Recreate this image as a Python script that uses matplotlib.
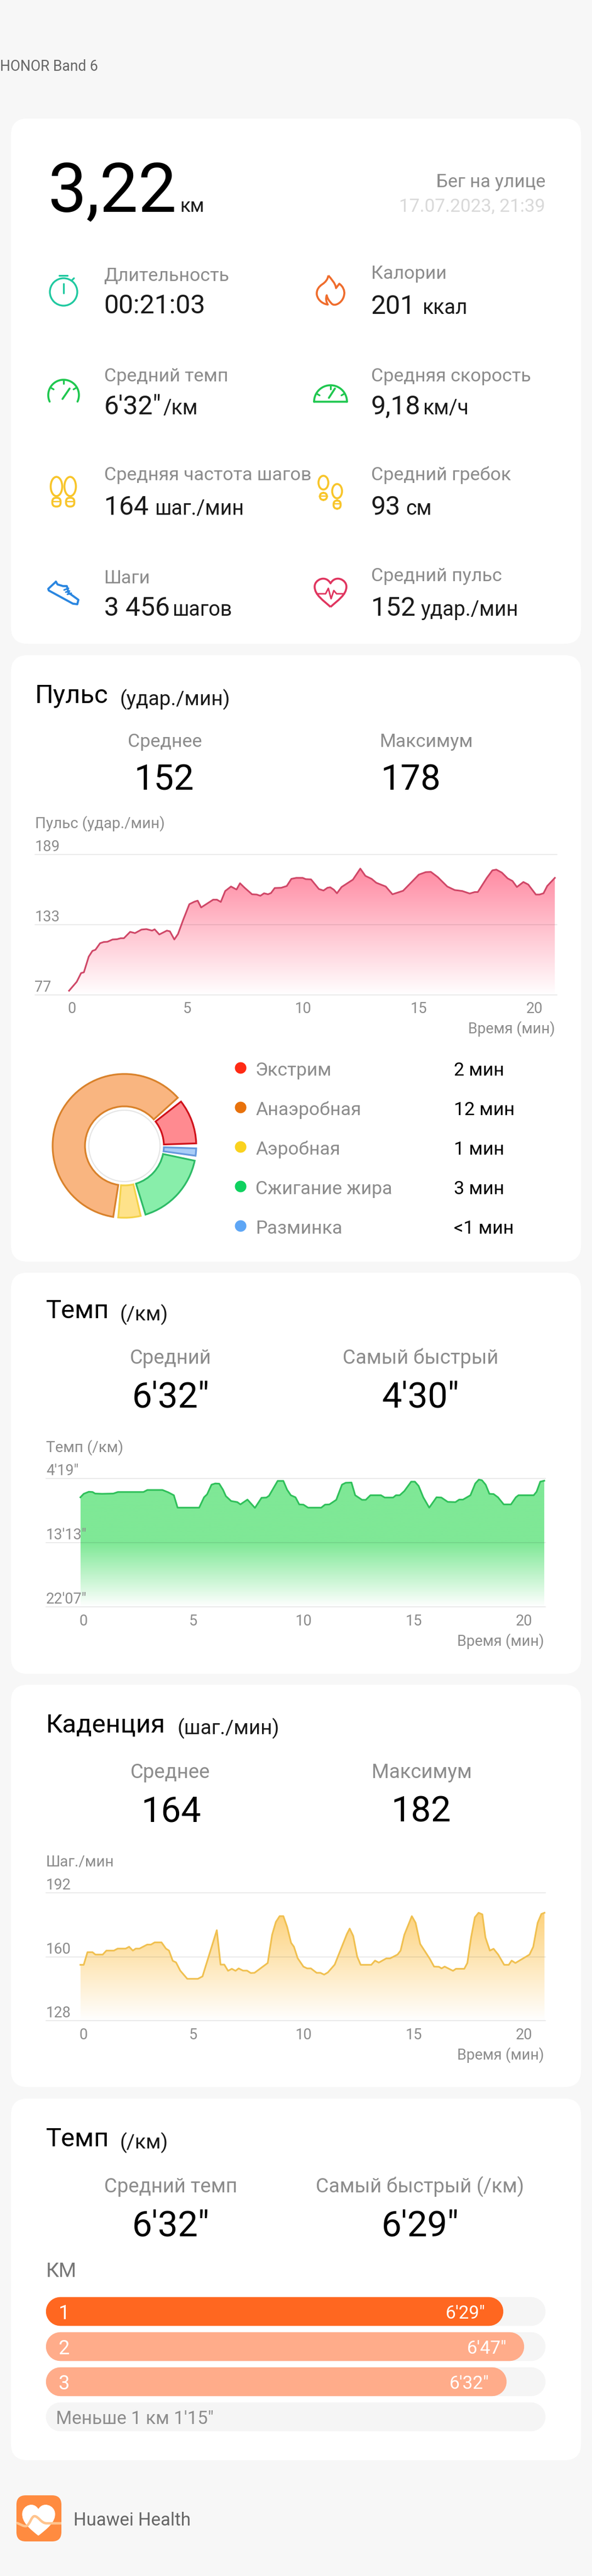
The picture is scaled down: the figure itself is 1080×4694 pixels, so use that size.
import numpy as np
import matplotlib
matplotlib.use("Agg")
import matplotlib.pyplot as plt
import matplotlib.patches as mpatches
from matplotlib.colors import LinearSegmentedColormap
from matplotlib.path import Path
from matplotlib.transforms import ScaledTranslation

plt.rcParams["font.family"] = ["Roboto", "DejaVu Sans"]

W, H = 1080, 4694

hr_minutes = [0.00, 0.33, 0.52, 0.64, 0.85, 1.01, 1.14, 1.34, 1.50, 1.66, 1.88, 2.07, 2.23, 2.37, 2.64, 2.85, 3.13, 3.34, 3.59, 3.70,
              3.90, 4.23, 4.36, 4.55, 4.71, 4.93, 5.20, 5.42, 5.56, 5.71, 6.23, 6.39, 6.56, 6.75, 7.00, 7.24, 7.39, 7.59, 7.91, 8.11,
              8.27, 8.43, 8.60, 8.73, 8.89, 9.17, 9.41, 9.61, 9.82, 10.10, 10.23, 10.46, 10.80, 11.00, 11.17, 11.29, 11.45, 11.58, 11.78, 12.27,
              12.59, 12.81, 13.08, 13.28, 13.69, 13.98, 14.44, 14.80, 15.12, 15.42, 15.64, 15.94, 16.35, 16.67, 17.00, 17.32, 17.54, 17.67, 18.06, 18.30,
              18.47, 18.71, 18.96, 19.17, 19.36, 19.64, 19.85, 20.18, 20.34, 20.51, 20.67, 21.00]
hr_bpm = [80.2, 87.3, 94.3, 94.9, 107.4, 112.0, 112.9, 118.1, 119.1, 119.3, 121.1, 121.3, 122.1, 122.1, 127.2, 126.2, 129.0, 129.4, 128.2, 129.2,
          125.1, 128.2, 127.6, 121.1, 125.5, 136.6, 149.3, 151.3, 152.1, 146.7, 152.9, 152.9, 151.1, 159.8, 163.4, 161.0, 166.0, 162.4, 157.2, 157.0,
          156.0, 158.0, 157.2, 158.2, 162.2, 162.4, 163.8, 169.5, 170.3, 170.3, 169.3, 169.1, 161.4, 160.2, 162.4, 162.8, 160.8, 158.0, 163.0, 168.9,
          177.7, 171.9, 169.5, 166.4, 163.4, 157.2, 160.0, 166.8, 172.9, 174.9, 175.1, 170.9, 163.4, 160.6, 159.8, 157.8, 159.0, 159.0, 170.3, 176.3,
          176.9, 174.5, 169.9, 167.8, 163.0, 167.0, 165.0, 157.0, 157.0, 158.0, 163.8, 170.3]

pace_minutes = [0, 0.15, 0.38, 0.55, 0.67, 0.98, 1.49, 1.70, 2.01, 2.86, 3.04, 3.72, 3.98, 4.24, 4.41, 5.39, 5.61, 5.75, 5.95, 6.12,
                6.30, 6.47, 6.60, 6.84, 7.12, 7.26, 7.58, 7.92, 8.22, 8.44, 8.56, 8.95, 9.21, 9.38, 9.55, 9.76, 9.93, 10.12, 10.33, 10.93,
                11.10, 11.30, 11.61, 11.87, 12.04, 12.30, 12.47, 12.78, 12.95, 13.16, 13.64, 13.81, 14.19, 14.32, 14.49, 14.70, 15.01, 15.18, 15.35, 15.56,
                15.83, 16.16, 16.38, 16.67, 17.02, 17.19, 17.36, 17.70, 17.92, 18.08, 18.22, 18.39, 18.56, 18.75, 18.95, 19.21, 19.54, 19.76, 19.88, 20.57,
                20.70, 20.87, 21.05]
pace_seconds = [416, 387, 370, 372, 385, 387, 385, 372, 372, 372, 355, 355, 374, 399, 502, 502, 416, 391, 311, 301,
                303, 353, 406, 447, 456, 475, 435, 504, 420, 418, 403, 280, 280, 353, 399, 416, 475, 477, 502, 502,
                477, 475, 437, 311, 295, 293, 399, 437, 437, 399, 399, 418, 418, 399, 399, 364, 286, 286, 322, 416,
                502, 416, 418, 454, 456, 435, 435, 399, 301, 269, 274, 311, 387, 389, 416, 475, 475, 416, 399, 399,
                370, 286, 278]

cad_minutes = [0, 0.15, 0.32, 0.55, 0.68, 1.01, 1.18, 1.52, 1.69, 2.05, 2.21, 2.38, 2.51, 2.68, 3.03, 3.20, 3.37, 3.68, 3.88, 4.02,
               4.19, 4.34, 4.53, 4.85, 5.33, 5.54, 6.19, 6.36, 6.53, 6.70, 6.87, 7.04, 7.18, 7.38, 7.56, 7.73, 7.90, 8.50, 8.70, 8.87,
               9.04, 9.21, 9.38, 9.56, 9.69, 9.86, 10.12, 10.29, 10.46, 10.72, 10.89, 11.06, 11.23, 11.54, 12.09, 12.22, 12.38, 12.56, 12.72, 13.20,
               13.37, 13.54, 13.88, 14.05, 14.39, 14.53, 14.70, 15.04, 15.21, 15.42, 15.85, 16.05, 16.27, 16.39, 16.53, 16.91, 17.04, 17.42, 17.56, 17.73,
               17.90, 18.07, 18.24, 18.38, 18.58, 18.75, 18.96, 19.23, 19.44, 19.57, 19.74, 20.38, 20.55, 20.75, 20.92, 21.06]
cad_spm = [156.0, 156.0, 162.3, 162.3, 161.1, 161.1, 163.1, 163.1, 164.1, 164.1, 165.0, 163.1, 164.1, 164.1, 166.1, 166.1, 167.2, 167.2, 164.1, 163.1,
           158.0, 157.2, 153.1, 149.0, 149.0, 150.2, 173.3, 156.1, 156.1, 153.0, 154.0, 153.0, 154.2, 153.1, 153.1, 151.9, 152.0, 156.9, 171.0, 177.4,
           180.3, 180.3, 175.0, 167.0, 165.0, 159.3, 155.1, 154.2, 154.2, 152.0, 152.0, 151.1, 152.2, 156.1, 171.3, 174.1, 170.4, 160.1, 156.0, 156.0,
           158.1, 157.1, 159.2, 159.2, 161.1, 163.1, 171.0, 180.3, 177.0, 166.4, 159.1, 155.1, 155.0, 154.2, 155.1, 153.0, 154.0, 154.0, 156.9, 169.7,
           179.7, 182.0, 181.2, 169.7, 163.1, 164.0, 161.1, 156.0, 156.0, 158.1, 156.9, 161.1, 165.0, 177.0, 181.4, 182.0]

zone_names = ["Экстрим", "Анаэробная", "Аэробная", "Сжигание жира", "Разминка"]
zone_labels = ["2 мин", "12 мин", "1 мин", "3 мин", "<1 мин"]
# slices going counter clockwise from 3 o'clock, estimated from the angles
slice_minutes = [2.34, 13.04, 1.29, 3.80, 0.58]

km_labels = ["1", "2", "3"]
km_seconds = [389, 407, 392]
km_texts = ["6'29\"", "6'47\"", "6'32\""]

time_ticks = [0, 5, 10, 15, 20]

GREY = "#8c8c8c"
DARK = "#1a1a1a"
zone_dots = ["#ff2a14", "#e8720c", "#fad21e", "#0fd15f", "#5ea6f5"]
zone_fill = ["#ff8a90", "#f9b580", "#fee28a", "#88eeaa", "#a9cdf7"]
zone_edge = ["#d0121b", "#d9822b", "#f4d24a", "#2dbb66", "#6699dd"]

fig = plt.figure(figsize=(W / 100, H / 100), dpi=100, facecolor="#f7f7f7")
bg = fig.add_axes([0, 0, 1, 1])
bg.set_xlim(0, W)
bg.set_ylim(H, 0)
bg.axis("off")


def txt(x, y, s, size, color=DARK, ha="left"):
    # y is the middle of the digits, size in pixels
    bg.text(x, y + 0.36 * size, s, fontsize=size * 0.72, color=color, ha=ha, va="baseline")


def card(y0, y1):
    bg.add_patch(mpatches.FancyBboxPatch((20, y0), 1040, y1 - y0, boxstyle="round,pad=0,rounding_size=30",
                                         fc="white", ec="none"))


def stroke(xs, ys, color, lw=3.2):
    bg.plot(xs, ys, color=color, lw=lw * 0.72, solid_capstyle="round", solid_joinstyle="round")


def curve(verts, color, lw=3.2, fc="none"):
    codes = [Path.MOVETO] + [Path.CURVE4] * (len(verts) - 1)
    bg.add_patch(mpatches.PathPatch(Path(verts, codes), fc=fc, ec=color, lw=lw * 0.72, joinstyle="round"))


def arc(cx, cy, r, a0, a1, color, lw=3.2):
    t = np.radians(np.linspace(a0, a1, 60))
    stroke(cx + r * np.cos(t), cy - r * np.sin(t), color, lw)


def spoke(cx, cy, r0, r1, a, color, lw=3.2):
    t = np.radians(a)
    stroke([cx + r0 * np.cos(t), cx + r1 * np.cos(t)], [cy - r0 * np.sin(t), cy - r1 * np.sin(t)], color, lw)


def sole(cx, y0, w, h1, gap, h2, color):
    bg.add_patch(mpatches.Ellipse((cx, y0 + h1 / 2), w, h1, fc="none", ec=color, lw=2.6))
    bg.add_patch(mpatches.FancyBboxPatch((cx - w * 0.36, y0 + h1 + gap), w * 0.72, h2,
                                         boxstyle="round,pad=0,rounding_size=7", fc="none", ec=color, lw=2.6))


def icons():
    c = "#20c9a0"
    bg.add_patch(mpatches.Circle((116, 532), 25, fc="none", ec=c, lw=2.4))
    stroke([108, 123], [502, 502], c)
    stroke([116, 116], [517, 534], c)
    stroke([131, 135], [511, 507], c)

    c = "#ef6c2c"
    curve([(599, 502), (604, 508), (612, 516), (613, 525), (615, 522), (617, 520), (619, 517),
           (626, 522), (629, 530), (628, 536), (627, 546), (620, 553), (613, 555),
           (609, 556), (606, 555), (604, 552), (600, 548), (597, 543), (596, 538),
           (594, 544), (595, 550), (598, 555), (590, 554), (580, 548), (578, 537),
           (577, 528), (582, 522), (588, 518), (594, 514), (598, 509), (599, 502)], c, 3.6)

    c = "#1fc74f"
    arc(116, 720, 28, -25, 205, c, 3.6)
    for a in [150, 90, 30]:
        spoke(116, 720, 21, 27, a, c)
    stroke([114, 127], [727, 708], c, 3.6)
    arc(603, 732, 30, 0, 180, c, 3.6)
    stroke([573, 633], [732, 732], c, 3.6)
    for a in [150, 90, 30]:
        spoke(603, 732, 23, 29, a, c)
    stroke([600, 611], [725, 708], c, 3.6)

    c = "#f8c52a"
    sole(103, 869, 21, 35, 3, 16, c)
    sole(128, 869, 21, 35, 3, 16, c)
    sole(590, 867, 18, 25, 6, 13, c)
    sole(615, 882, 18, 26, 4, 15, c)
    for cx, cy in [(103, 914), (128, 914), (590, 904), (615, 918)]:
        stroke([cx - 6, cx + 6], [cy, cy], c, 2.5)

    c = "#2a86e0"
    stroke([102, 88, 89, 133, 141, 143, 125, 122, 115, 105, 102],
           [1060, 1073, 1076, 1100, 1101, 1093, 1080, 1068, 1068, 1065, 1060], c, 3.8)
    stroke([117, 125], [1075, 1072], c, 3)
    stroke([120, 127], [1079, 1077], c, 3)
    stroke([123, 130], [1083, 1081], c, 3)

    c = "#e0355f"
    curve([(603, 1106), (590, 1094), (574, 1084), (574, 1069), (574, 1056), (594, 1047), (603, 1063),
           (612, 1047), (632, 1056), (632, 1069), (632, 1084), (616, 1094), (603, 1106)], c, 3.6)
    stroke([578, 594, 599, 604, 609, 614, 628], [1082, 1082, 1072, 1091, 1076, 1082, 1082], c, 2.8)


def head(title, unit, unit_x, y_base, label_a, label_b, xa, xb, val_a, val_b, xva, xvb, y_lab, y_val, lab_size=36.5):
    bg.text(84 if title != "Пульс" else 63.5, y_base, title, fontsize=34, color="black", va="baseline")
    txt(unit_x, y_base - 9, unit, 37, DARK)
    txt(xa, y_lab, label_a, lab_size, GREY, ha="center")
    txt(xb, y_lab, label_b, lab_size, GREY, ha="center")
    txt(xva, y_val, val_a, 65, "black", ha="center")
    txt(xvb, y_val, val_b, 65, "black", ha="center")


def trace_chart(x0, x1, y_top, y_bot, x_at_zero, px_per_min, t, v, ylim, yticks, ylabels,
                line_color, cmap, grad_range, title, xlab_right, tick_dx):
    ax = fig.add_axes([x0 / W, 1 - y_bot / H, (x1 - x0) / W, (y_bot - y_top) / H])
    ax.patch.set_alpha(0)
    xlim = ((x0 - x_at_zero) / px_per_min, (x1 - x_at_zero) / px_per_min)
    ax.set_xlim(*xlim)
    ax.set_ylim(*ylim)
    poly = ax.fill_between(t, v, ylim[0], facecolor="none", edgecolor="none")
    grad = np.linspace(0, 1, 256).reshape(-1, 1)
    im = ax.imshow(grad, extent=(t[0], t[-1], grad_range[0], grad_range[1]), origin="lower",
                   aspect="auto", cmap=cmap, vmin=0, vmax=1, zorder=1)
    im.set_clip_path(poly.get_paths()[0], transform=ax.transData)
    ax.set_xlim(*xlim)
    ax.set_ylim(*ylim)
    ax.plot(t, v, color=line_color, lw=2.2, zorder=3, solid_joinstyle="round")
    for s in ax.spines.values():
        s.set_visible(False)
    ax.set_yticks(yticks, ylabels, ha="left", va="bottom")
    ax.set_xticks(time_ticks)
    ax.tick_params(axis="both", length=0, labelsize=19.5, labelcolor=GREY)
    ax.tick_params(axis="y", pad=0)
    ax.tick_params(axis="x", pad=9)
    shift = ScaledTranslation(tick_dx / 100, 0, fig.dpi_scale_trans)
    for lab in ax.get_xticklabels():
        lab.set_transform(lab.get_transform() + shift)
    ax.set_axisbelow(False)
    ax.yaxis.grid(True, color="black", alpha=0.1, lw=1.1)
    for g in ax.yaxis.get_gridlines():
        g.set_clip_on(False)
    ax.set_title(title, loc="left", fontsize=20, color=GREY, pad=35)
    ax.set_xlabel("Время (мин)", fontsize=19.5, color=GREY, ha="right")
    ax.xaxis.set_label_coords((xlab_right - x0) / (x1 - x0), -48 / (y_bot - y_top))
    return ax


# page header
txt(0, 119, "HONOR Band 6", 26.5, "#666666")

card(216, 1173)
card(1194, 2299)
card(2319, 3050)
card(3070, 3803)
card(3824, 4483)

# summary card
bg.text(87, 386, "3,22", fontsize=90, color="black", va="baseline")
bg.text(328, 386, "км", fontsize=25, color=DARK, va="baseline")
txt(995, 329, "Бег на улице", 33.5, GREY, ha="right")
txt(995, 374, "17.07.2023, 21:39", 33.5, "#d9d9d9", ha="right")

rows = [
    (189.5, 500, 554, "Длительность", "00:21:03", "", 0),
    (677, 496, 555, "Калории", "201", "ккал", 93),
    (189.5, 683, 738, "Средний темп", "6'32\"", "/км", 108),
    (677, 683, 738, "Средняя скорость", "9,18", "км/ч", 94),
    (189.5, 863, 921, "Средняя частота шагов", "164", "шаг./мин", 93),
    (677, 863, 921, "Средний гребок", "93", "см", 63),
    (189.5, 1051, 1105, "Шаги", "3 456", "шагов", 125),
    (677, 1047, 1105, "Средний пульс", "152", "удар./мин", 91),
]
for x, yl, yv, lab, val, unit, ux in rows:
    txt(x, yl, lab, 34, GREY)
    txt(x, yv, val, 48, DARK)
    if unit:
        bg.text(x + ux, yv + 17, unit, fontsize=27, color=DARK, va="baseline")
icons()

# heart rate card
head("Пульс", "(удар./мин)", 219, 1281, "Среднее", "Максимум", 301, 778, "152", "178", 299, 749, 1349, 1416, lab_size=34)
hr_cmap = LinearSegmentedColormap.from_list("hr", ["#ffffff", "#ff8aa2"])
trace_chart(63.5, 1016, 1557, 1812.6, 126, 42.2, hr_minutes, hr_bpm, (77, 189), [77, 133, 189], ["77", "133", "189"],
            "#cf4767", hr_cmap, (77, 178), "Пульс (удар./мин)", 1012, 5)

# zones donut
r_out, r_in, r_mark = 131, 72, 65
cx, cy = 227, 2088
span = r_out * 1.05
ax_pie = fig.add_axes([(cx - span) / W, 1 - (cy + span) / H, 2 * span / W, 2 * span / H])
wedges, _ = ax_pie.pie(slice_minutes, radius=1, startangle=0, counterclock=True, colors=zone_fill,
                       wedgeprops={"width": (r_out - r_in) / r_out, "linewidth": 2.3})
ax_pie.set_xlim(-1.05, 1.05)
ax_pie.set_ylim(-1.05, 1.05)
for w, ec in zip(wedges, zone_edge):
    w.set_edgecolor(ec)
    w.set_theta1(w.theta1 + 2)
    w.set_theta2(w.theta2 - 2)
ax_pie.add_patch(mpatches.Circle((0, 0), r_mark / r_out, fc="white", ec="#e6e6e6", lw=1.6))

for i, (name, lab) in enumerate(zip(zone_names, zone_labels)):
    yy = 1946 + i * 72
    bg.add_patch(mpatches.Circle((439, yy), 10.5, fc=zone_dots[i], ec="none"))
    txt(466, yy + 2, name, 34, GREY)
    txt(828, yy + 2, lab, 34, "black")

# pace chart
head("Темп", "(/км)", 219, 2402, "Средний", "Самый быстрый", 311, 767, "6'32\"", "4'30\"", 312, 766.5, 2472, 2541)
pace_cmap = LinearSegmentedColormap.from_list("pace", [(0, "#ffffff"), (0.5, "#7fe896"), (1, "#7fe896")])
trace_chart(84, 995, 2694, 2928, 146.7, 40.2, pace_minutes, pace_seconds, (1327, 259), [1327, 793, 259],
            ["22'07\"", "13'13\"", "4'19\""], "#2fc05a", pace_cmap, (1327, 259), "Темп (/км)", 992, 5)

# cadence chart
head("Каденция", "(шаг./мин)", 324, 3156, "Среднее", "Максимум", 311, 769, "164", "182", 312, 768, 3227, 3296.5)
cad_cmap = LinearSegmentedColormap.from_list("cad", ["#ffffff", "#fdd27c"])
trace_chart(84, 995, 3449, 3682.4, 146.7, 40.2, cad_minutes, cad_spm, (128, 192), [128, 160, 192], ["128", "160", "192"],
            "#f0c050", cad_cmap, (128, 182), "Шаг./мин", 992, 5)

# per km card
head("Темп", "(/км)", 219, 3911, "Средний темп", "Самый быстрый (/км)", 311, 766.5, "6'32\"", "6'29\"", 312, 767, 3982, 4051)
txt(84, 4136, "КМ", 37, "#777777")

bar_top, bar_bot, row_h, bar_h = 4186, 4431, 64, 52.5
ax_km = fig.add_axes([84 / W, 1 - bar_bot / H, (995 - 84) / W, (bar_bot - bar_top) / H])
ax_km.set_xlim(0, 424.9)
ax_km.set_ylim((bar_bot - bar_top - bar_h / 2) / row_h, -bar_h / 2 / row_h)
ax_km.axis("off")
cap = bar_h / 2 / 2.144
for i in range(4):
    ax_km.plot([cap, 424.9 - cap], [i, i], color="#f5f5f5", lw=bar_h * 0.72, solid_capstyle="round", clip_on=False)
for i, (lab, sec, text) in enumerate(zip(km_labels, km_seconds, km_texts)):
    ax_km.plot([cap, sec - cap], [i, i], color="#ff6720" if i == 0 else "#ffac8a",
               lw=bar_h * 0.72, solid_capstyle="round", clip_on=False)
    ax_km.text(sec - 15, i, text, color="white", fontsize=24, ha="right", va="center_baseline")
    ax_km.text(10.5, i, lab, color="white", fontsize=26, ha="left", va="center_baseline")
ax_km.text(8.4, 3, "Меньше 1 км 1'15\"", color=GREY, fontsize=24, ha="left", va="center_baseline")

# footer
bg.add_patch(mpatches.FancyBboxPatch((30, 4547), 82, 84, boxstyle="round,pad=0,rounding_size=17", fc="#ff8b40", ec="none"))
curve([(70, 4620), (55, 4608), (40, 4596), (41, 4580), (42, 4565), (62, 4558), (70, 4573),
       (78, 4558), (99, 4565), (100, 4580), (101, 4596), (85, 4608), (70, 4620)], "white", 1, fc="#ffffff")
curve([(30, 4597), (38, 4600), (43, 4604), (48, 4603), (55, 4600), (57, 4585), (63, 4585),
       (70, 4585), (75, 4598), (85, 4598), (95, 4598), (105, 4598), (112, 4598)], "#ffc48e", 4.5)
txt(134, 4590, "Huawei Health", 33, "#666666")

fig.savefig("out.png", dpi=100, facecolor=fig.get_facecolor())
plt.close(fig)
